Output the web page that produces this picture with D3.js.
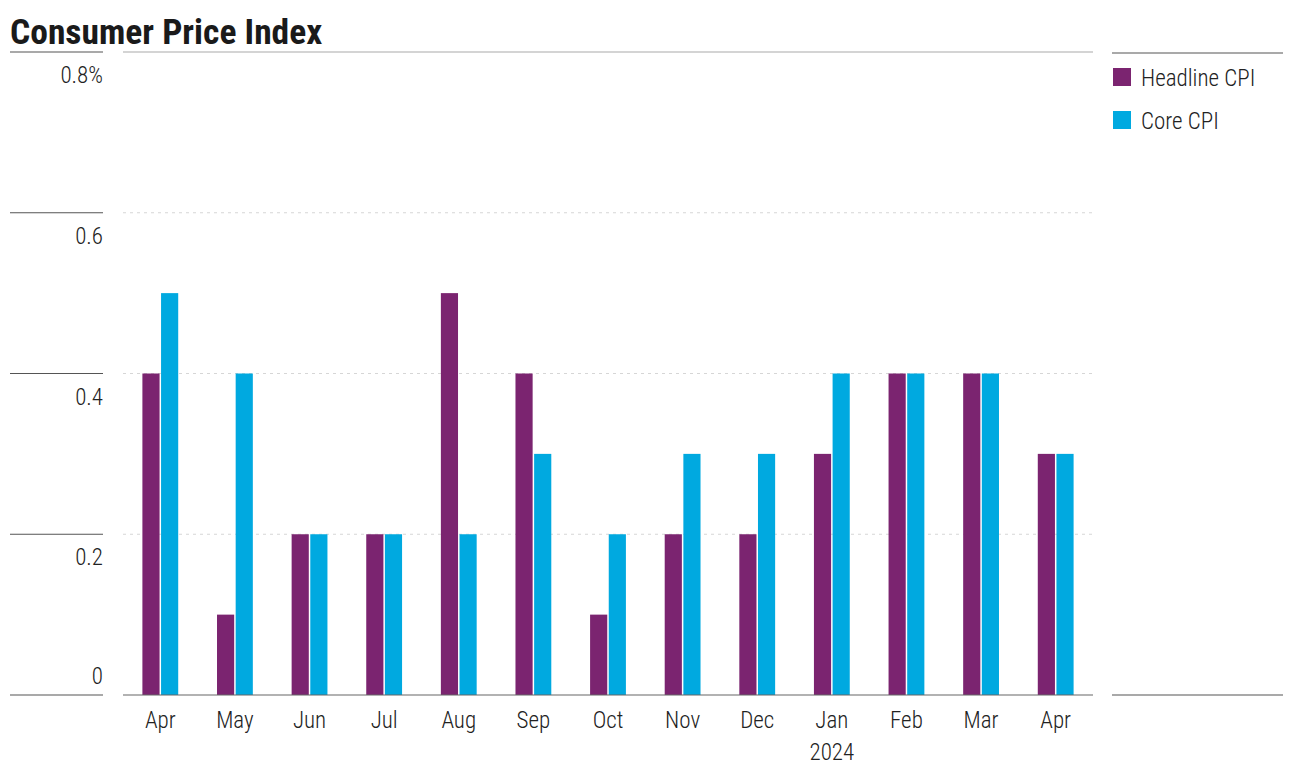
<!DOCTYPE html>
<html><head><meta charset="utf-8">
<script src="https://cdn.jsdelivr.net/npm/d3@7"></script>
<style>
body{margin:0;background:#fff;}
text{font-family:"Roboto Condensed","Liberation Sans Narrow","DejaVu Sans Condensed",sans-serif;}
</style></head>
<body><svg id="c" width="1292" height="773"></svg>
<script>
const months = ["Apr","May","Jun","Jul","Aug","Sep","Oct","Nov","Dec","Jan","Feb","Mar","Apr "];
const headline = [0.4,0.1,0.2,0.2,0.5,0.4,0.1,0.2,0.2,0.3,0.4,0.4,0.3];
const core = [0.5,0.4,0.2,0.2,0.2,0.3,0.2,0.3,0.3,0.4,0.4,0.4,0.3];
const seriesNames = ["Headline CPI","Core CPI"];
const colors = ["#7b2470","#00a9e0"];
const yTicks = [0,0.2,0.4,0.6,0.8];

const svg = d3.select("#c");
const x0 = d3.scaleBand().domain(months).range([123,1093]).paddingInner(0.52).paddingOuter(0.26);
const x1 = d3.scaleBand().domain(seriesNames).range([0,x0.bandwidth()]).paddingInner(0.08);
const y = d3.scaleLinear().domain([0,0.8]).range([695,52]);

svg.append("text").attr("x",10).attr("y",44).attr("font-size",35.5).attr("font-weight",700)
  .attr("fill","#1a1a1a").text("Consumer Price Index");

yTicks.forEach(t=>{
  svg.append("line").attr("x1",10).attr("x2",103).attr("y1",y(t)).attr("y2",y(t))
    .attr("stroke","#555").attr("stroke-width",1.2);
  svg.append("text").attr("x",103).attr("y",y(t)+(t===0?-11:31)).attr("text-anchor","end")
    .attr("font-size",23).attr("font-weight",300).attr("fill","#222").text(t===0.8?"0.8%":(t===0?"0":d3.format(".1f")(t)));
  if(t>0 && t<0.8){
    svg.append("line").attr("x1",123).attr("x2",1093).attr("y1",y(t)).attr("y2",y(t))
      .attr("stroke","#d6d6d6").attr("stroke-dasharray","3,4").attr("stroke-width",1);
  }
});
svg.append("line").attr("x1",123).attr("x2",1093).attr("y1",y(0.8)).attr("y2",y(0.8)).attr("stroke","#aaa").attr("stroke-width",1.2);

const data = months.map((m,i)=>({m, vals:[headline[i],core[i]]}));
const g = svg.append("g");
data.forEach(d=>{
  d.vals.forEach((v,j)=>{
    g.append("rect").attr("x",x0(d.m)+x1(seriesNames[j])).attr("width",x1.bandwidth())
      .attr("y",y(v)).attr("height",y(0)-y(v)).attr("fill",colors[j]);
  });
});
svg.append("line").attr("x1",123).attr("x2",1093).attr("y1",y(0)).attr("y2",y(0)).attr("stroke","#666").attr("stroke-width",1.2);

const xa = svg.append("g");
months.forEach((m,i)=>{
  const cx = x0(m)+x0.bandwidth()/2;
  xa.append("text").attr("x",cx).attr("y",728).attr("text-anchor","middle").attr("font-size",23).attr("font-weight",300).attr("fill","#222").text(m.trim());
  if(m==="Jan") xa.append("text").attr("x",cx).attr("y",760).attr("text-anchor","middle").attr("font-size",23).attr("font-weight",300).attr("fill","#222").text("2024");
});

svg.append("line").attr("x1",1112).attr("x2",1283).attr("y1",53).attr("y2",53).attr("stroke","#555").attr("stroke-width",1.2);
svg.append("line").attr("x1",1112).attr("x2",1283).attr("y1",695).attr("y2",695).attr("stroke","#555").attr("stroke-width",1.2);
seriesNames.forEach((s,i)=>{
  svg.append("rect").attr("x",1113).attr("y",68+i*43).attr("width",18).attr("height",18).attr("fill",colors[i]);
  svg.append("text").attr("x",1141).attr("y",86+i*43).attr("font-size",23).attr("font-weight",300).attr("fill","#222").text(s);
});
</script></body></html>
